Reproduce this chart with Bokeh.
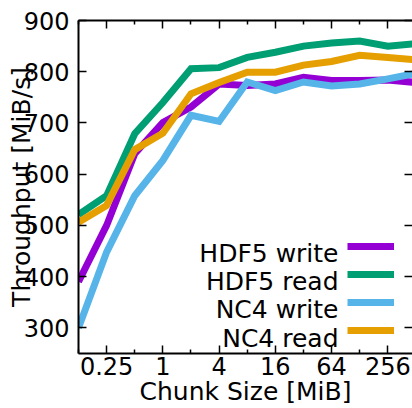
from bokeh.plotting import figure
from bokeh.models import (FixedTicker, LinearAxis, LogAxis, Range1d, Legend,
                          LegendItem, Label)
from bokeh.core.properties import value
from bokeh.embed import file_html
from bokeh.resources import INLINE

# ---- data ----
chunk_sizes = [0.125, 0.25, 0.5, 1, 2, 4, 8, 16, 32, 64, 128, 256, 512]
hdf5_write = [390, 500, 640, 701, 731, 776, 773, 776, 789, 783, 783, 784, 779]
hdf5_read = [521, 558, 679, 740, 806, 808, 828, 838, 850, 856, 860, 850, 855]
nc4_write = [300, 448, 558, 627, 715, 703, 780, 763, 780, 772, 776, 786, 797]
nc4_read = [506, 539, 648, 680, 757, 779, 799, 799, 813, 820, 832, 828, 823]

series_names = ["HDF5 write", "HDF5 read", "NC4 write", "NC4 read"]
series_values = [hdf5_write, hdf5_read, nc4_write, nc4_read]
series_colors = ["#9400D3", "#009E73", "#56B4E9", "#E69F00"]

x_major = [0.25, 1, 4, 16, 64, 256]
x_minor = [0.125, 0.5, 2, 8, 32, 128, 512]
x_labels = {0.25: "0.25", 1: "1", 4: "4", 16: "16", 64: "64", 256: "256"}
y_ticks = [300, 400, 500, 600, 700, 800, 900]

FONT = "DejaVu Sans"
FS = "24px"
LFS = "25px"

p = figure(width=412, height=408, output_backend="svg", toolbar_location=None,
           x_axis_type="log", x_range=Range1d(0.125, 470), y_range=Range1d(250, 900),
           min_border_left=78, min_border_right=0, min_border_top=20,
           min_border_bottom=55, x_axis_location=None, y_axis_location=None)
p.outline_line_color = None
p.grid.visible = False
p.background_fill_color = "white"
p.border_fill_color = "white"


def style_axis(ax, tick_len=8, minor_len=4):
    ax.axis_line_width = 2
    ax.axis_line_color = "black"
    ax.major_tick_in = tick_len
    ax.major_tick_out = 0
    ax.minor_tick_in = minor_len
    ax.minor_tick_out = 0
    ax.major_tick_line_width = 1.5
    ax.minor_tick_line_width = 1.5
    ax.major_label_text_font = FONT
    ax.major_label_text_font_size = FS
    ax.major_label_text_color = "black"
    ax.axis_label_text_font = FONT
    ax.axis_label_text_font_size = LFS
    ax.axis_label_text_font_style = "normal"
    ax.axis_label_text_color = "black"


xb = LogAxis(ticker=FixedTicker(ticks=x_major, minor_ticks=x_minor),
             major_label_overrides=x_labels, axis_label="Chunk Size [MiB]")
style_axis(xb)
xb.major_label_standoff = 3
xb.axis_label_standoff = -1
p.add_layout(xb, "below")

xt = LogAxis(ticker=FixedTicker(ticks=x_major, minor_ticks=x_minor),
             major_label_overrides={k: "" for k in x_major})
style_axis(xt)
xt.major_label_text_font_size = "0px"
xt.major_label_standoff = 0
p.add_layout(xt, "above")

yl = LinearAxis(ticker=FixedTicker(ticks=y_ticks, minor_ticks=[]),
                axis_label="Throughput [MiB/s]")
style_axis(yl)
yl.major_label_standoff = 9
yl.axis_label_standoff = -15
p.add_layout(yl, "left")

yr = LinearAxis(ticker=FixedTicker(ticks=y_ticks, minor_ticks=[]),
                major_label_overrides={k: "" for k in y_ticks})
style_axis(yr)
yr.axis_line_color = None
yr.major_label_text_font_size = "0px"
yr.major_label_standoff = 0
p.add_layout(yr, "right")

renderers = []
for name, vals, col in zip(series_names, series_values, series_colors):
    r = p.line(chunk_sizes, vals, line_color=col, line_width=7, line_join="miter")
    renderers.append(r)

legend = Legend(items=[LegendItem(label=value(""), renderers=[r]) for r in renderers],
                location=(269, 9), glyph_width=47, glyph_height=28, label_height=28,
                label_width=0, label_standoff=0, spacing=0, padding=0, margin=0,
                border_line_color=None, background_fill_alpha=0)
legend.label_text_font_size = "1px"
p.add_layout(legend, "center")

label_ys = [100, 72, 44, 15]
for name, ly in zip(series_names, label_ys):
    p.add_layout(Label(x=260, y=ly, x_units="screen", y_units="screen", text=name,
                       text_align="right", text_baseline="alphabetic",
                       text_font=FONT, text_font_size=LFS, text_color="black"))

open("out.html", "w").write(file_html(p, INLINE))
